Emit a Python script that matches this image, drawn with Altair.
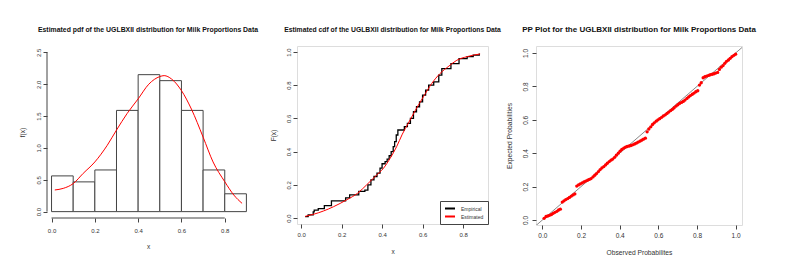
import altair as alt
import pandas as pd

# ---------------- data ----------------
# Panel 1: histogram (density) + fitted pdf
bin_start = [0.0, 0.1, 0.2, 0.3, 0.4, 0.5, 0.6, 0.7, 0.8]
bin_end = [0.1, 0.2, 0.3, 0.4, 0.5, 0.6, 0.7, 0.8, 0.9]
density = [0.561, 0.467, 0.654, 1.589, 2.150, 2.056, 1.589, 0.654, 0.280]

pdf_x = [0.015, 0.054, 0.10, 0.146, 0.20, 0.257, 0.30, 0.349, 0.40, 0.449,
         0.50, 0.52, 0.555, 0.60, 0.646, 0.70, 0.746, 0.80, 0.842, 0.88]
pdf_y = [0.34, 0.365, 0.44, 0.60, 0.78, 1.04, 1.28, 1.54, 1.77, 2.00,
         2.12, 2.135, 2.08, 1.90, 1.61, 1.17, 0.78, 0.47, 0.26, 0.13]

# Panel 2: empirical cdf (steps) + fitted cdf
ecdf_x = [0.020, 0.035, 0.060, 0.065, 0.085, 0.115, 0.150, 0.220, 0.240, 0.285,
          0.315, 0.330, 0.345, 0.360, 0.375, 0.390, 0.400, 0.415, 0.425, 0.435,
          0.445, 0.455, 0.462, 0.470, 0.478, 0.510, 0.525, 0.540, 0.555, 0.570,
          0.585, 0.600, 0.615, 0.630, 0.655, 0.680, 0.695, 0.740, 0.780, 0.820,
          0.850, 0.880]
ecdf_F = [0.009, 0.019, 0.037, 0.047, 0.056, 0.075, 0.103, 0.121, 0.140, 0.160,
          0.168, 0.200, 0.230, 0.250, 0.270, 0.300, 0.327, 0.340, 0.355, 0.375,
          0.400, 0.430, 0.460, 0.500, 0.530, 0.550, 0.570, 0.600, 0.640, 0.670,
          0.700, 0.740, 0.770, 0.800, 0.820, 0.860, 0.900, 0.930, 0.960, 0.972,
          0.981, 0.991]

est_x = [0.02, 0.06, 0.11, 0.16, 0.226, 0.28, 0.324, 0.37, 0.407, 0.44,
         0.472, 0.50, 0.53, 0.565, 0.604, 0.645, 0.686, 0.73, 0.769, 0.82, 0.884]
est_F = [0.010, 0.022, 0.042, 0.068, 0.110, 0.150, 0.200, 0.255, 0.300, 0.360,
         0.430, 0.505, 0.572, 0.650, 0.730, 0.810, 0.870, 0.915, 0.950, 0.972, 0.988]

# Panel 3: PP plot
pp_obs = [0.009, 0.019, 0.028, 0.037, 0.047, 0.056, 0.065, 0.075, 0.084, 0.093,
          0.103, 0.112, 0.121, 0.131, 0.140, 0.150, 0.159, 0.168, 0.178, 0.187,
          0.196, 0.206, 0.215, 0.224, 0.234, 0.243, 0.252, 0.262, 0.271, 0.280,
          0.290, 0.299, 0.308, 0.318, 0.327, 0.336, 0.346, 0.355, 0.364, 0.374,
          0.383, 0.393, 0.402, 0.411, 0.421, 0.430, 0.439, 0.449, 0.458, 0.467,
          0.477, 0.486, 0.495, 0.505, 0.514, 0.523, 0.533, 0.542, 0.551, 0.561,
          0.570, 0.579, 0.589, 0.598, 0.607, 0.617, 0.626, 0.636, 0.645, 0.654,
          0.664, 0.673, 0.682, 0.692, 0.701, 0.710, 0.720, 0.729, 0.738, 0.748,
          0.757, 0.766, 0.776, 0.785, 0.794, 0.804, 0.813, 0.822, 0.832, 0.841,
          0.850, 0.860, 0.869, 0.879, 0.888, 0.897, 0.907, 0.916, 0.925, 0.935,
          0.944, 0.953, 0.963, 0.972, 0.981, 0.991, 1.000]
pp_exp = [0.010, 0.021, 0.024, 0.028, 0.033, 0.040, 0.046, 0.052, 0.060, 0.065,
          0.107, 0.115, 0.122, 0.128, 0.135, 0.143, 0.150, 0.156, 0.203, 0.210,
          0.216, 0.222, 0.228, 0.233, 0.238, 0.243, 0.248, 0.258, 0.268, 0.278,
          0.290, 0.302, 0.312, 0.320, 0.330, 0.340, 0.350, 0.358, 0.365, 0.375,
          0.388, 0.400, 0.412, 0.422, 0.430, 0.436, 0.440, 0.443, 0.446, 0.450,
          0.455, 0.460, 0.466, 0.472, 0.478, 0.484, 0.490, 0.528, 0.545, 0.558,
          0.572, 0.582, 0.592, 0.600, 0.607, 0.615, 0.623, 0.630, 0.638, 0.646,
          0.655, 0.663, 0.672, 0.682, 0.690, 0.698, 0.704, 0.710, 0.718, 0.728,
          0.737, 0.745, 0.753, 0.760, 0.768, 0.774, 0.808, 0.822, 0.852, 0.858,
          0.862, 0.866, 0.870, 0.873, 0.876, 0.880, 0.884, 0.902, 0.915, 0.925,
          0.938, 0.950, 0.958, 0.968, 0.978, 0.986, 0.993]

x1_ticks = [0.0, 0.2, 0.4, 0.6, 0.8]
y1_ticks = [0.0, 0.5, 1.0, 1.5, 2.0, 2.5]
x2_ticks = [0.0, 0.2, 0.4, 0.6, 0.8]
y2_ticks = [0.0, 0.2, 0.4, 0.6, 0.8, 1.0]
pp_ticks = [0.0, 0.2, 0.4, 0.6, 0.8, 1.0]
series_names = ["Empirical", "Estimated"]

title1 = "Estimated pdf of the UGLBXII distribution for Milk Proportions Data"
title2 = "Estimated cdf of the UGLBXII distribution for Milk Proportions Data"
title3 = "PP Plot for the UGLBXII distribution for Milk Proportions Data"

# ---------------- styling helpers ----------------
FONT = "Liberation Sans"
INK = "#333333"
LINE = "#444444"


def xaxis(title, values, lfs, lpad, tpad, tfs):
    return alt.Axis(values=values, format=".1f", title=title, labelFontSize=lfs,
                    labelPadding=lpad, tickSize=4, titlePadding=tpad,
                    titleFontSize=tfs, titleFontWeight="normal", domain=False,
                    grid=False, labelColor=INK, tickColor=LINE, titleColor=INK,
                    labelFlush=False, labelOverlap=False, labelFont=FONT,
                    titleFont=FONT)


def yaxis(title, values, lfs, lpad, tpad, tfs):
    return alt.Axis(values=values, format=".1f", title=title, labelFontSize=lfs,
                    labelAngle=-90, labelAlign="center", labelBaseline="bottom",
                    labelPadding=lpad, tickSize=4, titlePadding=tpad,
                    titleFontSize=tfs, titleFontWeight="normal", domain=False,
                    grid=False, labelColor=INK, tickColor=LINE, titleColor=INK,
                    labelFlush=False, labelOverlap=False, labelFont=FONT,
                    titleFont=FONT)


def ptitle(text, size, offset):
    return alt.Title(text, fontSize=size, font=FONT, fontWeight="bold",
                     anchor="middle", frame="group", offset=offset, color="#111111")


# ---------------- panel 1 ----------------
W1, H1 = 202, 172
hist_df = pd.DataFrame({"start": bin_start, "end": bin_end, "density": density,
                        "base": [0.0] * len(density)})
pdf_df = pd.DataFrame({"x": pdf_x, "y": pdf_y})
x1s = alt.Scale(domain=[-0.021, 0.912], nice=False, zero=False)
y1s = alt.Scale(domain=[-0.1, 2.6], nice=False, zero=False)
ax1x = xaxis("x", x1_ticks, 6, 5.5, 10, 6.5)
ax1y = yaxis("f(x)", y1_ticks, 6, 2, 10, 6.5)

hist = alt.Chart(hist_df).mark_rect(fill="white", stroke=LINE, strokeWidth=1).encode(
    x=alt.X("start:Q", scale=x1s, axis=ax1x),
    x2="end:Q",
    y=alt.Y("density:Q", scale=y1s, axis=ax1y),
    y2="base:Q",
)
pdf_line = alt.Chart(pdf_df).mark_line(color="red", strokeWidth=1,
                                       interpolate="monotone").encode(
    x=alt.X("x:Q", scale=x1s, axis=ax1x), y=alt.Y("y:Q", scale=y1s, axis=ax1y))
x1_rule = alt.Chart(pd.DataFrame({"a": [x1_ticks[0]], "b": [x1_ticks[-1]]})).mark_rule(
    color=LINE, strokeWidth=1).encode(
    x=alt.X("a:Q", scale=x1s, axis=ax1x), x2="b:Q", y=alt.value(H1))
y1_rule = alt.Chart(pd.DataFrame({"a": [y1_ticks[0]], "b": [y1_ticks[-1]]})).mark_rule(
    color=LINE, strokeWidth=1).encode(
    y=alt.Y("a:Q", scale=y1s, axis=ax1y), y2="b:Q", x=alt.value(0))

p1 = alt.layer(hist, pdf_line, x1_rule, y1_rule).properties(
    width=W1, height=H1, title=ptitle(title1, 6.9, 12),
    view=alt.ViewBackground(stroke="transparent"))

# ---------------- panel 2 ----------------
W2, H2 = 191, 178
ecdf_df = pd.DataFrame({"x": ecdf_x, "F": ecdf_F, "series": series_names[0]})
est_df = pd.DataFrame({"x": est_x, "F": est_F, "series": series_names[1]})
x2s = alt.Scale(domain=[-0.02, 0.923], nice=False, zero=False)
y2s = alt.Scale(domain=[-0.036, 1.036], nice=False, zero=False)
ax2x = xaxis("x", x2_ticks, 6, 3.7, 11, 6.5)
ax2y = yaxis("F(x)", y2_ticks, 6, 1.6, 8.7, 6.5)
cscale = alt.Scale(domain=series_names, range=["black", "red"])
legend = alt.Legend(title=None, orient="bottom-right", offset=0, padding=4,
                    strokeColor=LINE, fillColor="white", symbolType="stroke",
                    symbolSize=100, symbolStrokeWidth=2, labelFontSize=5,
                    labelFont=FONT, labelColor=INK, rowPadding=1, labelOffset=5,
                    clipHeight=7, cornerRadius=0)

ecdf_line = alt.Chart(ecdf_df).mark_line(strokeWidth=1.3, interpolate="step-after").encode(
    x=alt.X("x:Q", scale=x2s, axis=ax2x),
    y=alt.Y("F:Q", scale=y2s, axis=ax2y),
    color=alt.Color("series:N", scale=cscale, legend=legend),
)
est_line = alt.Chart(est_df).mark_line(strokeWidth=1, interpolate="monotone").encode(
    x=alt.X("x:Q", scale=x2s, axis=ax2x),
    y=alt.Y("F:Q", scale=y2s, axis=ax2y),
    color=alt.Color("series:N", scale=cscale, legend=legend),
)
p2 = alt.layer(ecdf_line, est_line).properties(
    width=W2, height=H2, title=ptitle(title2, 6.8, 12))

# ---------------- panel 3 ----------------
W3, H3 = 206, 179
pp_df = pd.DataFrame({"obs": pp_obs, "exp": pp_exp})
x3s = alt.Scale(domain=[-0.033, 1.033], nice=False, zero=False)
y3s = alt.Scale(domain=[-0.03, 1.042], nice=False, zero=False)
ax3x = xaxis("Observed Probabilites", pp_ticks, 6.5, 3, 11, 6.7)
ax3y = yaxis("Expected Probabilities", pp_ticks, 6.5, 3.7, 10, 6.7)
diag = alt.Chart(pd.DataFrame({"a": [-0.1], "b": [1.1]})).mark_rule(
    color="#555555", strokeWidth=0.7, clip=True).encode(
    x=alt.X("a:Q", scale=x3s, axis=ax3x), x2="b:Q",
    y=alt.Y("a:Q", scale=y3s, axis=ax3y), y2="b:Q")
pts = alt.Chart(pp_df).mark_circle(color="red", size=11, opacity=1).encode(
    x=alt.X("obs:Q", scale=x3s, axis=ax3x),
    y=alt.Y("exp:Q", scale=y3s, axis=ax3y),
)
p3 = alt.layer(diag, pts).properties(
    width=W3, height=H3, title=ptitle(title3, 8.0, 12.5))

chart = alt.hconcat(p1, p2, p3, spacing=48, bounds="flush").resolve_scale(
    color="independent").resolve_legend(color="independent").properties(
    padding={"left": 10, "top": 17, "right": 5, "bottom": 5}
).configure_view(stroke=LINE, strokeWidth=1).configure(font=FONT, background="white")

chart.save("out.html", embed_options={"renderer": "svg", "actions": False})
